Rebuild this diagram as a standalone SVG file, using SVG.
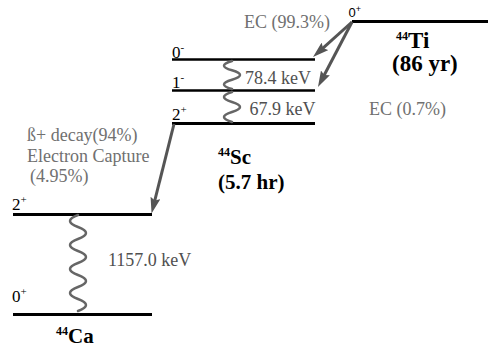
<svg xmlns="http://www.w3.org/2000/svg" width="488" height="350" viewBox="0 0 488 350" font-family="'Liberation Serif', Tinos, 'Times New Roman', Times, serif">
<style>
.lvl{stroke:#000;stroke-width:3;fill:none}
.lvl2{stroke:#000;stroke-width:2.5;fill:none}
text{font-family:'Liberation Serif',Tinos,'Times New Roman',Times,serif}
.spin{font-size:17px;fill:#000}
.sup{font-size:11px}
.lbl{font-size:18px;fill:#707070}
.kev{font-size:18px;fill:#505050}
.nuc{font-weight:bold;fill:#000}
.ar{font-family:'Liberation Sans',Arial,sans-serif;font-size:13px}
.wave{stroke:#666;stroke-width:2.5;fill:none;stroke-linecap:round}
.arr{stroke:#555;stroke-width:3;fill:none;marker-end:url(#ah)}
</style>
<defs>
<marker id="ah" viewBox="0 0 16 10" markerWidth="16" markerHeight="10" refX="3" refY="5" orient="auto" markerUnits="userSpaceOnUse">
<path d="M0,0 L16,5 L0,10 L2.5,5 z" fill="#555"/>
</marker>
</defs>
<g id="ti">
<line class="lvl" x1="352" y1="21.5" x2="488" y2="21.5"/>
<text class="ar" x="348.5" y="17">0<tspan font-size="9" dy="-5">+</tspan></text>
<text class="nuc" x="396" y="48"><tspan font-size="12" dy="-8">44</tspan><tspan font-size="23" dy="8">Ti</tspan></text>
<text class="nuc" x="392" y="71" font-size="23">(86 yr)</text>
</g>
<g id="sc">
<line class="lvl2" x1="172" y1="59.5" x2="315" y2="59.5"/>
<line class="lvl2" x1="172" y1="90.5" x2="315" y2="90.5"/>
<line class="lvl" x1="172" y1="123.5" x2="315" y2="123.5"/>
<text class="spin" x="172" y="58">0<tspan class="sup" dy="-7">-</tspan></text>
<text class="spin" x="172" y="87.5">1<tspan class="sup" dy="-7">-</tspan></text>
<text class="spin" x="172" y="120">2<tspan class="sup" dy="-7">+</tspan></text>
<text class="nuc" x="218" y="163.5"><tspan font-size="12" dy="-8">44</tspan><tspan font-size="21" dy="8">Sc</tspan></text>
<text class="nuc" x="218" y="188.5" font-size="21">(5.7 hr)</text>
</g>
<g id="ca">
<line class="lvl" x1="13" y1="214.5" x2="152" y2="214.5"/>
<line class="lvl" x1="13" y1="314.5" x2="152" y2="314.5"/>
<text class="spin" x="12" y="210">2<tspan class="sup" dy="-7">+</tspan></text>
<text class="spin" x="12" y="302">0<tspan class="sup" dy="-7">+</tspan></text>
<text class="nuc" x="56" y="343"><tspan font-size="12" dy="-8">44</tspan><tspan font-size="21" dy="8">Ca</tspan></text>
</g>
<g id="labels">
<text class="lbl" x="244" y="28.3">EC (99.3%)</text>
<text class="lbl" x="369" y="114.5">EC (0.7%)</text>
<text class="kev" x="245" y="83.5">78.4 keV</text>
<text class="kev" x="249.5" y="114.5">67.9 keV</text>
<text class="kev" x="108" y="265.5">1157.0 keV</text>
<text class="lbl" x="27" y="141">ß+ decay(94%)</text>
<text class="lbl" x="27" y="161.5">Electron Capture</text>
<text class="lbl" x="30" y="181.5">(4.95%)</text>
</g>
<g id="connectors">
<line class="arr" x1="352" y1="22" x2="322.7" y2="48.3"/>
<line class="arr" x1="352" y1="22" x2="324" y2="75.5"/>
<line class="arr" x1="174" y1="124" x2="154.7" y2="200.9"/>
<path class="wave" d="M232,61 Q216,65.7 232,70.3 T232,79.7 T232,89"/>
<path class="wave" d="M232,92 Q216,97 232,102 T232,112 T232,122"/>
<path class="wave" d="M78,215 Q62,221 78,227 T78,239 T78,251 T78,263 T78,275 T78,287 T78,299 T78,311"/>
</g>
</svg>
